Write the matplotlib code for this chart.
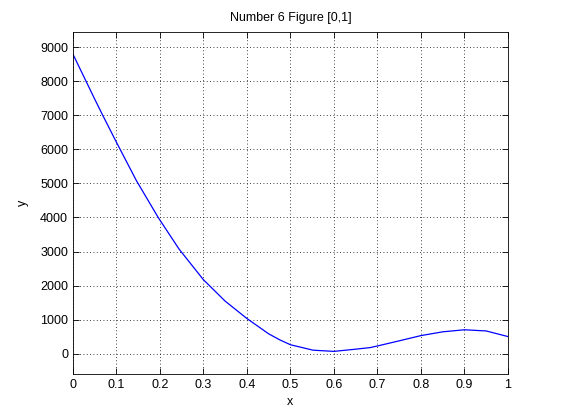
import matplotlib
matplotlib.use("Agg")
import matplotlib.pyplot as plt

# values
x = [0.0, 0.028, 0.05, 0.069, 0.1, 0.146, 0.196, 0.244, 0.3, 0.35, 0.4,
     0.45, 0.476, 0.5, 0.552, 0.6, 0.65, 0.683, 0.7, 0.75, 0.8, 0.85,
     0.9, 0.95, 1.0]
y = [8800, 8060, 7480, 6990, 6210, 5080, 4000, 3070, 2170, 1540, 1030,
     580, 400, 260, 100, 65, 130, 176, 224, 375, 529, 640,
     700, 665, 500]

xticks = [0, 0.1, 0.2, 0.3, 0.4, 0.5, 0.6, 0.7, 0.8, 0.9, 1]
xticklabels = ["0", "0.1", "0.2", "0.3", "0.4", "0.5", "0.6", "0.7", "0.8", "0.9", "1"]
yticks = [0, 1000, 2000, 3000, 4000, 5000, 6000, 7000, 8000, 9000]

plt.rcParams['font.family'] = ['Liberation Sans', 'DejaVu Sans']
plt.rcParams['font.size'] = 9

fig = plt.figure(figsize=(5.61, 4.2), dpi=100)
ax = fig.add_axes([0.130, 0.1095, 0.7755, 0.8143])

ax.plot(x, y, color="#0000ff", lw=0.9)

ax.set_xlim(0, 1)
ax.set_ylim(-600, 9450)
ax.set_xticks(xticks)
ax.set_xticklabels(xticklabels)
ax.set_yticks(yticks)

ax.grid(True, color="black", ls=(0, (1, 3)), lw=0.6)
ax.tick_params(direction="in", top=True, right=True, length=4, width=0.6)
for s in ax.spines.values():
    s.set_linewidth(0.6)

ax.set_title("Number 6 Figure [0,1]", fontsize=9, pad=8)
ax.set_xlabel("x", labelpad=4)
ax.set_ylabel("y", labelpad=8)

fig.savefig("out.png", dpi=100)
